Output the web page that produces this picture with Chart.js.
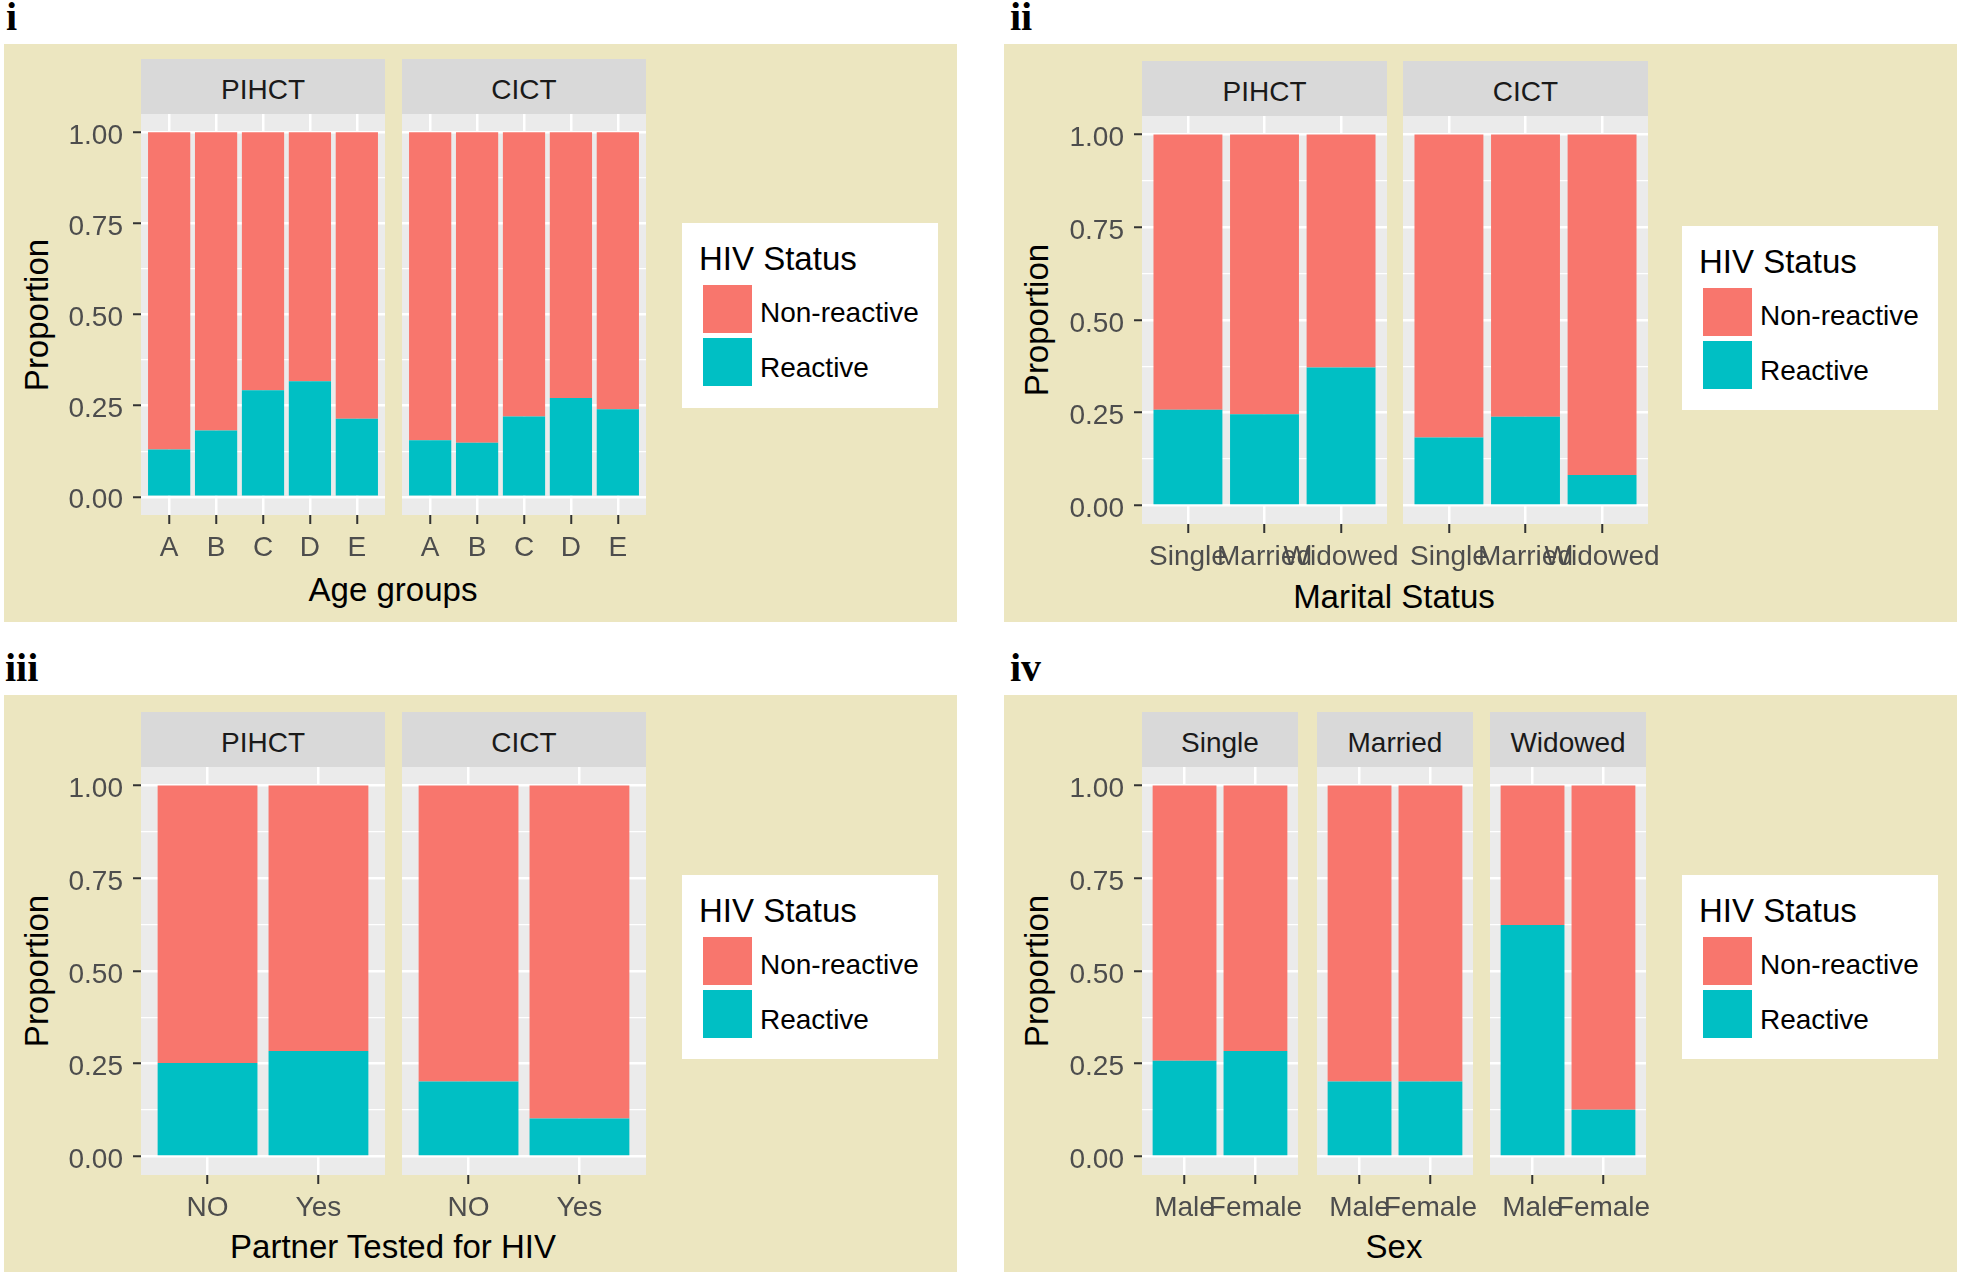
<!DOCTYPE html>
<html>
<head>
<meta charset="utf-8">
<script src="https://cdn.jsdelivr.net/npm/chart.js@4.4.1/dist/chart.umd.min.js"></script>
<style>
html,body{margin:0;padding:0;}
body{width:1961px;height:1276px;position:relative;overflow:hidden;background:#ffffff;font-family:"Liberation Sans",Arial,sans-serif;}
.bg{position:absolute;background:#ECE6C0;}
.plabel{position:absolute;font-family:"Liberation Serif","Times New Roman",serif;font-weight:bold;font-size:40px;line-height:40px;color:#000;}
.strip{position:absolute;background:#D9D9D9;color:#1A1A1A;font-size:28px;line-height:28px;display:flex;align-items:center;justify-content:center;box-sizing:border-box;padding-top:6px;}
.xtitle{position:absolute;font-size:33px;line-height:33px;color:#000;white-space:nowrap;transform:translateX(-50%);}
.ytitle{position:absolute;font-size:33px;line-height:33px;color:#000;white-space:nowrap;transform:translate(-50%,-50%) rotate(-90deg);}
.legend{position:absolute;background:#ffffff;}
.ltitle{position:absolute;font-size:33px;line-height:33px;color:#000;white-space:nowrap;}
.lkey{position:absolute;}
.ltext{position:absolute;font-size:28px;line-height:28px;color:#000;white-space:nowrap;}
canvas{position:absolute;}
</style>
</head>
<body>
<script>
// ---------- data ----------
const statusLabels = ['Non-reactive', 'Reactive'];
const legendTitle = 'HIV Status';
const yAxisTitle = 'Proportion';
const yMajorTicks = [0, 0.25, 0.5, 0.75, 1];
const yMinorTicks = [0.125, 0.375, 0.625, 0.875];
const testTypes = ['PIHCT', 'CICT'];

const ageGroups = ['A', 'B', 'C', 'D', 'E'];
const maritalStatus = ['Single', 'Married', 'Widowed'];
const partnerTested = ['NO', 'Yes'];
const sexCategories = ['Male', 'Female'];
const sexFacets = ['Single', 'Married', 'Widowed'];

// panel i : Age groups
const ageReactivePIHCT = [0.130, 0.182, 0.292, 0.317, 0.214];
const ageNonReactivePIHCT = [0.870, 0.818, 0.708, 0.683, 0.786];
const ageReactiveCICT = [0.155, 0.148, 0.220, 0.271, 0.240];
const ageNonReactiveCICT = [0.845, 0.852, 0.780, 0.729, 0.760];
// panel ii : Marital status
const maritalReactivePIHCT = [0.258, 0.246, 0.372];
const maritalNonReactivePIHCT = [0.742, 0.754, 0.628];
const maritalReactiveCICT = [0.183, 0.239, 0.082];
const maritalNonReactiveCICT = [0.817, 0.761, 0.918];
// panel iii : Partner tested
const partnerReactivePIHCT = [0.252, 0.284];
const partnerNonReactivePIHCT = [0.748, 0.716];
const partnerReactiveCICT = [0.202, 0.102];
const partnerNonReactiveCICT = [0.798, 0.898];
// panel iv : Sex by marital status
const sexReactiveSingle = [0.258, 0.284];
const sexNonReactiveSingle = [0.742, 0.716];
const sexReactiveMarried = [0.202, 0.202];
const sexNonReactiveMarried = [0.798, 0.798];
const sexReactiveWidowed = [0.624, 0.126];
const sexNonReactiveWidowed = [0.376, 0.874];

// ---------- style ----------
const nonReactiveColor = '#F8766D';
const reactiveColor = '#00BFC4';
const legendColors = [nonReactiveColor, reactiveColor];

// ---------- layout ----------
const panels = [
  { tag: 'i', tagPos: [6, -3], bg: [4, 44, 953, 578], stripTop: 59, plotTop: 114, plotH: 401, facetW: 244,
    yTitleX: 36, xTitle: 'Age groups', xTitleX: 393, xTitleTop: 573, legend: [682, 223, 256, 185],
    facets: [
      { x: 141, title: testTypes[0], cats: ageGroups, reactive: ageReactivePIHCT, non: ageNonReactivePIHCT },
      { x: 402, title: testTypes[1], cats: ageGroups, reactive: ageReactiveCICT, non: ageNonReactiveCICT }
    ] },
  { tag: 'ii', tagPos: [1010, -3], bg: [1004, 44, 953, 578], stripTop: 61, plotTop: 116, plotH: 408, facetW: 245,
    yTitleX: 1036, xTitle: 'Marital Status', xTitleX: 1394, xTitleTop: 580, legend: [1682, 226, 256, 184],
    facets: [
      { x: 1142, title: testTypes[0], cats: maritalStatus, reactive: maritalReactivePIHCT, non: maritalNonReactivePIHCT },
      { x: 1403, title: testTypes[1], cats: maritalStatus, reactive: maritalReactiveCICT, non: maritalNonReactiveCICT }
    ] },
  { tag: 'iii', tagPos: [5, 648], bg: [4, 695, 953, 577], stripTop: 712, plotTop: 767, plotH: 408, facetW: 244,
    yTitleX: 36, xTitle: 'Partner Tested for HIV', xTitleX: 393, xTitleTop: 1230, legend: [682, 875, 256, 184],
    facets: [
      { x: 141, title: testTypes[0], cats: partnerTested, reactive: partnerReactivePIHCT, non: partnerNonReactivePIHCT },
      { x: 402, title: testTypes[1], cats: partnerTested, reactive: partnerReactiveCICT, non: partnerNonReactiveCICT }
    ] },
  { tag: 'iv', tagPos: [1010, 648], bg: [1004, 695, 953, 577], stripTop: 712, plotTop: 767, plotH: 408, facetW: 156,
    yTitleX: 1036, xTitle: 'Sex', xTitleX: 1394, xTitleTop: 1230, legend: [1682, 875, 256, 184],
    facets: [
      { x: 1142, title: sexFacets[0], cats: sexCategories, reactive: sexReactiveSingle, non: sexNonReactiveSingle },
      { x: 1317, title: sexFacets[1], cats: sexCategories, reactive: sexReactiveMarried, non: sexNonReactiveMarried },
      { x: 1490, title: sexFacets[2], cats: sexCategories, reactive: sexReactiveWidowed, non: sexNonReactiveWidowed }
    ] }
];

Chart.defaults.font.family = '"Liberation Sans", Arial, sans-serif';

function el(cls, css, text) {
  const d = document.createElement('div');
  d.className = cls;
  Object.assign(d.style, css);
  if (text !== undefined) d.textContent = text;
  document.body.appendChild(d);
  return d;
}
const px = v => v + 'px';

const panelBgPlugin = {
  id: 'panelBg',
  beforeDraw(chart) {
    const { ctx, chartArea: a } = chart;
    ctx.save();
    ctx.fillStyle = '#EBEBEB';
    ctx.fillRect(a.left, a.top, a.right - a.left, a.bottom - a.top);
    ctx.restore();
  }
};
const isMajor = c => c.tick && yMajorTicks.includes(c.tick.value);

function facetChart(panel, facet, index) {
  const yW = index === 0 ? 100 : 0;
  const padL = index === 0 ? 0 : 40;
  const padR = 40;
  const xH = 60;
  const cw = padL + yW + panel.facetW + padR, ch = panel.plotH + xH;
  const canvas = document.createElement('canvas');
  canvas.width = cw; canvas.height = ch;
  Object.assign(canvas.style, { left: px(facet.x - yW - padL), top: px(panel.plotTop), width: px(cw), height: px(ch) });
  document.body.appendChild(canvas);
  const n = facet.cats.length;
  new Chart(canvas, {
    type: 'bar',
    data: {
      datasets: [
        { label: statusLabels[1], data: facet.reactive.map((v, i) => ({ x: i + 1, y: v })), backgroundColor: reactiveColor, stack: 's' },
        { label: statusLabels[0], data: facet.non.map((v, i) => ({ x: i + 1, y: v })), backgroundColor: nonReactiveColor, stack: 's' }
      ]
    },
    options: {
      responsive: false, animation: false, events: [], devicePixelRatio: 1,
      layout: { padding: { left: padL, right: padR, top: 0, bottom: 0 }, autoPadding: false },
      plugins: { legend: { display: false }, tooltip: { enabled: false } },
      datasets: { bar: { barPercentage: 0.9, categoryPercentage: 1, borderWidth: 0 } },
      scales: {
        x: {
          type: 'linear', min: 0.4, max: n + 0.6, bounds: 'data', offset: false,
          afterBuildTicks: s => { s.ticks = facet.cats.map((c, i) => ({ value: i + 1 })); },
          afterFit: s => { s.height = xH; s.paddingLeft = 0; s.paddingRight = 0; },
          ticks: { autoSkip: false, maxRotation: 0, minRotation: 0, padding: 7, color: '#4D4D4D', font: { size: 28 },
                   callback: v => facet.cats[Math.round(v) - 1] },
          grid: { offset: false, color: '#FFFFFF', lineWidth: 2.5, drawTicks: true, tickLength: 9, tickColor: '#333333', tickWidth: 2 },
          border: { display: false }
        },
        y: {
          type: 'linear', min: -0.05, max: 1.05, bounds: 'data', stacked: true,
          afterBuildTicks: s => { s.ticks = [...yMajorTicks, ...yMinorTicks].sort((a, b) => a - b).map(v => ({ value: v })); },
          afterFit: s => { s.width = yW; s.paddingTop = 0; s.paddingBottom = 0; },
          ticks: { display: yW > 0, autoSkip: false, padding: 10, labelOffset: 4, color: '#4D4D4D', font: { size: 28 },
                   callback: v => yMajorTicks.includes(v) ? v.toFixed(2) : '' },
          grid: { color: '#FFFFFF', lineWidth: c => isMajor(c) ? 2.5 : 1.2, drawTicks: yW > 0, tickLength: 8,
                  tickColor: c => isMajor(c) ? '#333333' : 'rgba(0,0,0,0)', tickWidth: 2 },
          border: { display: false }
        }
      }
    },
    plugins: [panelBgPlugin]
  });
}

panels.forEach(p => {
  el('bg', { left: px(p.bg[0]), top: px(p.bg[1]), width: px(p.bg[2]), height: px(p.bg[3]) });
  el('plabel', { left: px(p.tagPos[0]), top: px(p.tagPos[1]) }, p.tag);
  p.facets.forEach(f => {
    el('strip', { left: px(f.x), top: px(p.stripTop), width: px(p.facetW), height: px(p.plotTop - p.stripTop) }, f.title);
  });
  el('xtitle', { left: px(p.xTitleX), top: px(p.xTitleTop) }, p.xTitle);
  el('ytitle', { left: px(p.yTitleX), top: px(p.plotTop + p.plotH / 2) }, yAxisTitle);
  const [lx, ly, lw, lh] = p.legend;
  const lg = el('legend', { left: px(lx), top: px(ly), width: px(lw), height: px(lh) });
  const t = document.createElement('div');
  t.className = 'ltitle'; t.textContent = legendTitle;
  Object.assign(t.style, { left: '17px', top: '19px' });
  lg.appendChild(t);
  statusLabels.forEach((lab, i) => {
    const k = document.createElement('div');
    k.className = 'lkey';
    Object.assign(k.style, { left: '21px', top: px(62 + i * 53), width: '49px', height: '48px', background: legendColors[i] });
    lg.appendChild(k);
    const tx = document.createElement('div');
    tx.className = 'ltext'; tx.textContent = lab;
    Object.assign(tx.style, { left: '78px', top: px(76 + i * 55) });
    lg.appendChild(tx);
  });
  p.facets.forEach((f, i) => facetChart(p, f, i));
});
</script>
</body>
</html>
